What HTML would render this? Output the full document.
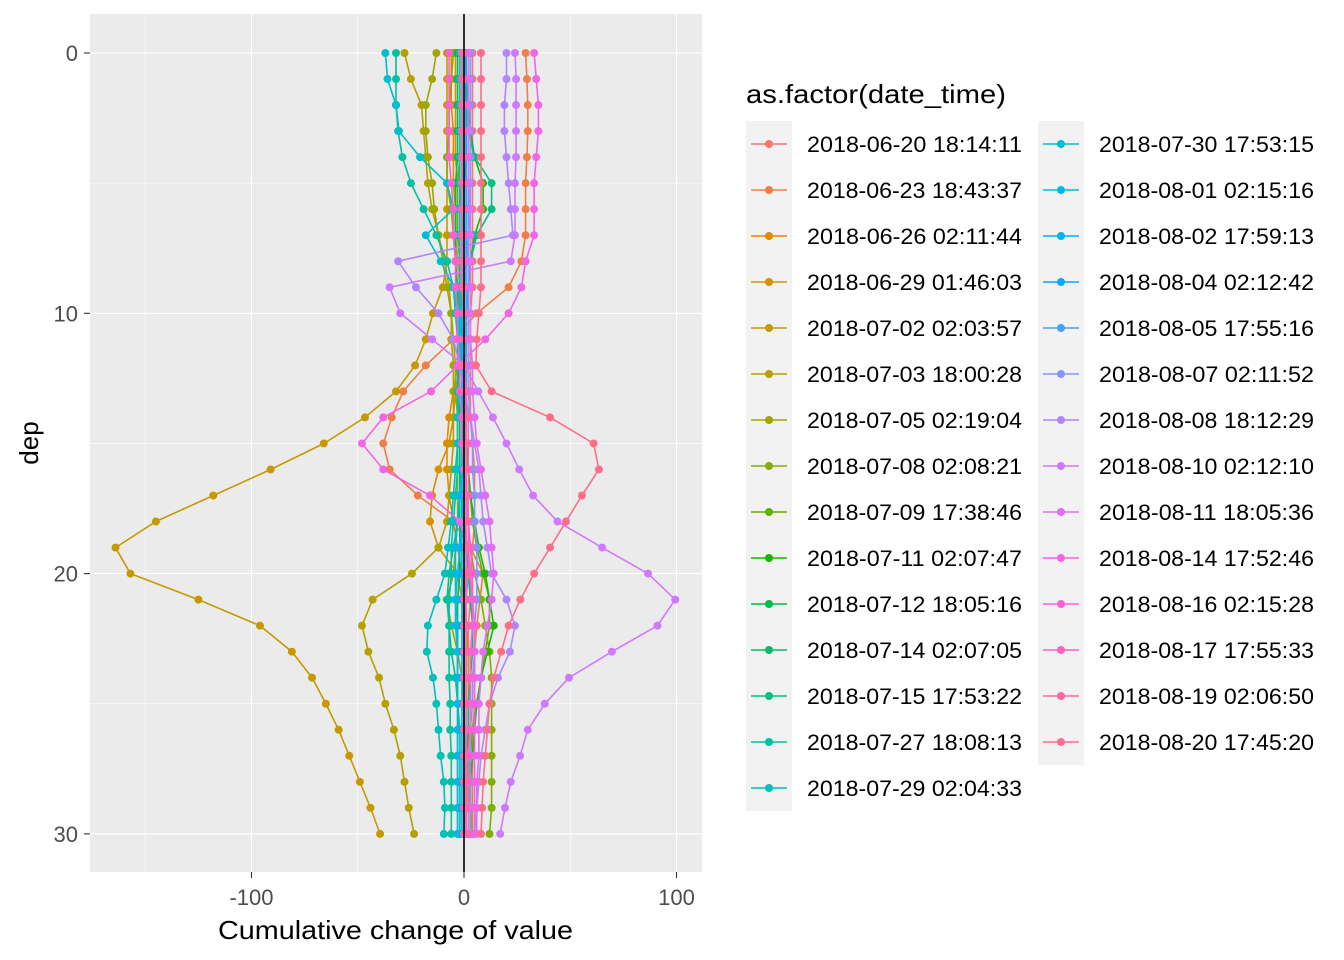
<!DOCTYPE html>
<html><head><meta charset="utf-8"><style>
body{margin:0;background:#fff;}
svg{display:block;font-family:"Liberation Sans",Arial,sans-serif;}
</style></head><body>
<svg id="chart" width="1344" height="960" viewBox="0 0 1344 960" xmlns="http://www.w3.org/2000/svg">
<rect x="0" y="0" width="1344" height="960" fill="#fff"/>
<rect x="90" y="14" width="612" height="858" fill="#EBEBEB"/>
<g id="grid"></g>
<g id="series"></g>
<g id="axes"></g>
<text x="218" y="939" font-size="26" textLength="355" lengthAdjust="spacingAndGlyphs" fill="#000">Cumulative change of value</text>
<text transform="translate(38,443) rotate(-90)" font-size="26" text-anchor="middle" fill="#000">dep</text>
<text x="746" y="103" font-size="26" textLength="260" lengthAdjust="spacingAndGlyphs" fill="#000">as.factor(date_time)</text>
<g id="legend"></g>
</svg>
<script>
const labels=["2018-06-20 18:14:11","2018-06-23 18:43:37","2018-06-26 02:11:44","2018-06-29 01:46:03","2018-07-02 02:03:57","2018-07-03 18:00:28","2018-07-05 02:19:04","2018-07-08 02:08:21","2018-07-09 17:38:46","2018-07-11 02:07:47","2018-07-12 18:05:16","2018-07-14 02:07:05","2018-07-15 17:53:22","2018-07-27 18:08:13","2018-07-29 02:04:33","2018-07-30 17:53:15","2018-08-01 02:15:16","2018-08-02 17:59:13","2018-08-04 02:12:42","2018-08-05 17:55:16","2018-08-07 02:11:52","2018-08-08 18:12:29","2018-08-10 02:12:10","2018-08-11 18:05:36","2018-08-14 17:52:46","2018-08-16 02:15:28","2018-08-17 17:55:33","2018-08-19 02:06:50","2018-08-20 17:45:20"];
const depths=[0,1,2,3,4,5,6,7,8,9,10,11,12,13,14,15,16,17,18,19,20,21,22,23,24,25,26,27,28,29,30];
const xTicks=[-100,0,100];
const yTicks=[0,10,20,30];
const s0=[4,4,4,4,4,4,4,4,4,4,3,3,3,3,3,4,5,5,5,4,3,3,2,2,2,2,2,2,2,2,2];
const s1=[29,29.6,30,30,29.6,29,29,29,27,21,6,-5,-18,-28.6,-34,-38,-35,-21.7,-5,3,9,7.5,6,5,5,5,4,4,4,4,4];
const s2=[-6,-6,-6,-5,-5,-5,-4,-4,-3,-2,-2,-2,-3,-5,-7,-8,-8,-7,-5,-3,-1,0,1,2,2,2,2,2,2,1,1];
const s3=[-4,-4,-4,-4,-4,-3,-3,-3,-2,-2,-1,-1,-2,-4,-5,-7,-12,-15,-16,-12,-3,-1,0,0,0,0,0,0,0,0,0];
const s4=[-8,-8,-8,-8,-8,-8,-8,-8,-8,-10,-14.6,-18,-23,-32,-46.6,-66,-91,-118,-145,-164,-157,-125,-96,-81,-71.5,-65,-59,-54,-49,-44,-39.5];
const s5=[-28,-25,-20,-19,-18,-17,-15,-12,-9,-7,-6,-6,-5,-5,-5,-5,-6,-7,-8,-12,-24.5,-43,-48,-45,-40,-37,-33,-30,-28,-26,-23.5];
const s6=[-13,-15,-18,-18,-17,-15,-14,-12,-10,-8,-6,-5,-4,-4,-3,-3,-3,-3,-3,-4,-5,-8,-6,-3,-1,0,0,1,2,3,4];
const s7=[-5,-6,-7,-7,-8,-8,-6,-5,-4,-3,-2,-2,-1,-1,0,0,0,1,2,3,5,8,10,12,13,13,13,13,13,13,12];
const s8=[-2,-2,-2,-2,-2,-3,-3,-3,-2,-2,-1,-1,0,0,1,1,2,3,4,6,9,12,12,10,8,6,4,3,2,2,2];
const s9=[1,1,2,3,5,9,9,5,3,2,1,1,1,1,1,1,2,3,5,7,10,12,14,11,8,6,5,4,3,3,3];
const s10=[-3,-3,-3,-3,-3,-4,-4,-4,-4,-3,-3,-3,-3,-2,-2,-2,-2,-2,-2,-2,-2,-3,-3,-3,-3,-3,-3,-3,-3,-3,-3];
const s11=[-1,-1,-1,-1,-1,-1,-1,-1,-1,-1,-1,-1,-1,-1,-1,-1,-1,-1,0,1,2,3,4,4,3,2,2,1,1,1,1];
const s12=[0,0,1,2,5,13,13,6,3,2,1,1,0,0,0,-1,-1,-2,-3,-5,-7,-8,-7,-6,-4,-3,-2,-2,-2,-2,-2];
const s13=[-32,-32,-32,-31,-29,-25,-19,-13,-8,-5,-4,-3,-3,-3,-3,-3,-3,-4,-5,-6,-6,-7,-7,-7,-7,-6.5,-6.5,-6,-6,-6,-6];
const s14=[-2,-2,-2,-2,-2,-2,-2,-2,-2,-2,-2,-2,-2,-2,-3,-3,-4,-5,-6,-7.5,-9,-13,-17,-17.5,-14.6,-13,-12,-11,-9.5,-9,-9.5];
const s15=[-37,-36,-32,-30.6,-20.7,-8,-5,-18,-11,-5,-3,-2,-1,-1,-1,-1,-1,-1,-1,-2,-3,-4,-4,-3,-3,-3,-2,-2,-2,-2,-2];
const s16=[0,1,1,1,1,0,0,-1,-1,-1,-1,-1,0,0,0,0,-1,-2,-3,-4,-4,-4,-3,-3,-3,-3,-3,-3,-3,-3,-3];
const s17=[-1,-1,-1,-1,-1,-1,-2,-2,-2,-2,-2,-1,-1,-1,-1,-1,-1,-1,-1,-1,-1,-1,-1,-1,-1,-1,-1,-1,-1,-1,-1];
const s18=[1,1,1,1,1,1,1,1,1,0,0,0,0,0,0,0,0,0,0,0,0,0,0,0,0,0,0,0,0,0,0];
const s19=[2,2,2,2,2,2,2,2,1,1,1,1,1,1,1,1,1,1,1,1,1,1,1,1,1,1,1,1,1,1,1];
const s20=[3,3,3,3,3,3,3,2,2,2,2,2,2,2,3,4,4,5,5,6,6,6,5,5,4,4,3,3,3,3,3];
const s21=[20,20,19,19,20,21,22,23,-31,-22.6,-12,-5,-2,0,3,5,7,8,9,11,13,20,24,21.6,16,12,10,8,7,6,5];
const s22=[24,24.5,24.5,24.5,24.5,24,24,24,22,-35,-30,-15,0,6.7,13.6,20,26,32.5,44,65,86.6,99.4,91,69.6,49.4,38,30,26.4,22,19.3,17];
const s23=[2,2,2,2,2,2,3,3,3,3,3,3,4,4,5,6,8,10,12,13,14,13,11,9,8,7,7,7,6,6,6];
const s24=[33,34,35,35,34,33,33,33,29,27,21,10,-3,-15.5,-38,-48,-38,-16,-2,2,3,4,5,5,5,5,5,5,5,5,5];
const s25=[-7,-7,-7,-7,-7,-6,-5,-5,-4,-4,-3,-3,-2,-2,-1,-1,0,1,2,3,4,4,4,3,3,3,3,2,2,2,2];
const s26=[0,0,0,0,0,0,0,0,0,0,0,0,0,1,2,2,2,2,2,2,2,1,1,1,1,1,1,1,1,1,1];
const s27=[-1,-1,-1,-1,-1,-1,-1,-1,-1,-1,0,0,0,0,1,1,1,1,1,1,1,0,0,0,0,0,0,0,0,0,0];
const s28=[8,8,8,8,8,8,8,8,8,8,7,6,5.6,13,40.5,61,63.5,55.5,48,40.5,33,26.5,21,17.5,14,12,11,10,9,8.5,8];
const seriesValues=[s0,s1,s2,s3,s4,s5,s6,s7,s8,s9,s10,s11,s12,s13,s14,s15,s16,s17,s18,s19,s20,s21,s22,s23,s24,s25,s26,s27,s28];

const NS="http://www.w3.org/2000/svg";
function xs(v){return 464+v*2.125;}
function ys(d){return 53+d*26.03;}
function hcl(h){
  const L=65,C=100,r=h*Math.PI/180;
  const u=C*Math.cos(r),v=C*Math.sin(r);
  const Y=Math.pow((L+16)/116,3);
  const un=0.1978398,vn=0.4683363;
  const up=u/(13*L)+un,vp=v/(13*L)+vn;
  const X=9*Y*up/(4*vp),Z=-X/3-5*Y+3*Y/vp;
  let R=3.240479*X-1.53715*Y-0.498535*Z;
  let G=-0.969256*X+1.875992*Y+0.041556*Z;
  let B=0.055648*X-0.204043*Y+1.057311*Z;
  function g(c){c=c<=0.0031308?12.92*c:1.055*Math.pow(c,1/2.4)-0.055;return Math.round(Math.max(0,Math.min(1,c))*255);}
  return "rgb("+g(R)+","+g(G)+","+g(B)+")";
}
const colors=labels.map((l,i)=>hcl(15+i*360/29));
function mk(tag,attrs,parent){const e=document.createElementNS(NS,tag);for(const k in attrs)e.setAttribute(k,attrs[k]);parent.appendChild(e);return e;}

const grid=document.getElementById('grid');
[-150,-50,50].forEach(v=>{const l=mk('line',{x1:xs(v),x2:xs(v),y1:14,y2:872,stroke:'#fff','stroke-width':0.55},grid);

});
[5,15,25].forEach(d=>{const l=mk('line',{x1:90,x2:702,y1:ys(d),y2:ys(d),stroke:'#fff','stroke-width':0.55},grid);

});
xTicks.forEach(v=>{const l=mk('line',{x1:xs(v),x2:xs(v),y1:14,y2:872,stroke:'#fff','stroke-width':1.1},grid);

});
yTicks.forEach(d=>{const l=mk('line',{x1:90,x2:702,y1:ys(d),y2:ys(d),stroke:'#fff','stroke-width':1.1},grid);

});

const sg=document.getElementById('series');
seriesValues.forEach((vals,i)=>{
  const g=mk('g',{},sg);
  
  
  const pts=vals.map((v,j)=>xs(v).toFixed(1)+","+ys(depths[j]).toFixed(1)).join(" ");
  const pl=mk('polyline',{points:pts,fill:'none',stroke:colors[i],'stroke-width':1.6},g);
  
  
  vals.forEach((v,j)=>{const c=mk('circle',{cx:xs(v),cy:ys(depths[j]),r:4,fill:colors[i]},g);
  
  });
});

const ax=document.getElementById('axes');
const vl=mk('line',{x1:464,x2:464,y1:14,y2:872,stroke:'#000','stroke-width':1.6},ax);


xTicks.forEach(v=>{
  const t=mk('line',{x1:xs(v),x2:xs(v),y1:872,y2:878,stroke:'#333','stroke-width':1.1},ax);
  
  
  const tx=mk('text',{x:xs(v),y:905,'font-size':22,'text-anchor':'middle',fill:'#4D4D4D'},ax);
  tx.textContent=String(v);
  
  
});
yTicks.forEach(d=>{
  const t=mk('line',{x1:84,x2:90,y1:ys(d),y2:ys(d),stroke:'#333','stroke-width':1.1},ax);
  
  
  const tx=mk('text',{x:78,y:ys(d)+8,'font-size':22,'text-anchor':'end',fill:'#4D4D4D'},ax);
  tx.textContent=String(d);
  
  
});

const lg=document.getElementById('legend');
labels.forEach((lab,i)=>{
  const col=i<15?0:1,row=i<15?i:i-15;
  const kx=col?1038:746,cy=144+row*46;
  const g=mk('g',{},lg);
  
  
  const r=mk('rect',{x:kx,y:cy-23,width:46,height:46,fill:'#F2F2F2'},g);
  
  
  const l=mk('line',{x1:kx+5,x2:kx+41,y1:cy,y2:cy,stroke:colors[i],'stroke-width':1.6},g);
  
  
  const c=mk('circle',{cx:kx+23,cy:cy,r:4,fill:colors[i]},g);
  
  
  const t=mk('text',{x:kx+61,y:cy+8,'font-size':22.5,textLength:215,lengthAdjust:'spacingAndGlyphs',fill:'#000'},g);
  t.textContent=lab;
  
  
});
</script>
</body></html>
